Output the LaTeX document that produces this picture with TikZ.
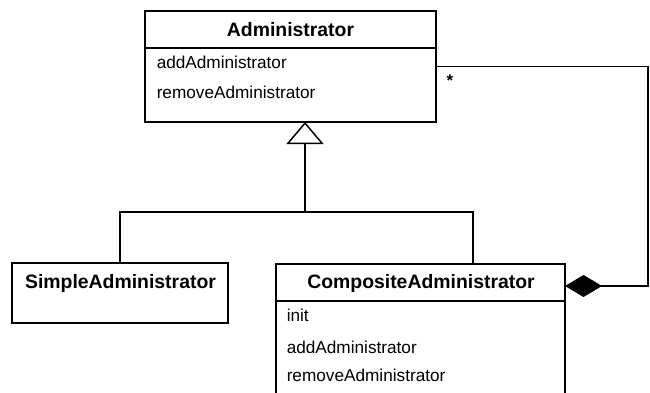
\documentclass[tikz,border=0pt]{standalone}
\usepackage{fontspec}
\setmainfont{Liberation Sans}
\usetikzlibrary{arrows.meta,calc}
\begin{document}
\begin{tikzpicture}[x=1pt,y=-1pt,
  line width=1.5pt,
  classbox/.style={draw,rectangle,inner sep=0pt,outer sep=0pt,fill=white},
  classname/.style={font=\fontsize{19.4}{21}\selectfont\bfseries,inner sep=0pt},
  member/.style={font=\fontsize{17.2}{19}\selectfont,inner sep=0pt,anchor=west},
  mult/.style={font=\fontsize{17}{19}\selectfont\bfseries,inner sep=0pt}]
\useasboundingbox (0,0) rectangle (650,393);
\clip (0,0) rectangle (650,393);

% Administrator class
\node[classbox,minimum width=291pt,minimum height=111pt] (admin) at (290.5,66.5) {};
\draw (admin.west |- 0,48) -- (admin.east |- 0,48);
\node[classname] (adminname) at (290.5,30) {Administrator};
\node[member] (adminadd) at (156,62) {addAdministrator};
\node[member] (adminrem) at (156,92) {removeAdministrator};

% SimpleAdministrator class
\node[classbox,minimum width=216pt,minimum height=60pt] (simple) at (120,293) {};
\node[classname] (simplename) at (120.5,283) {SimpleAdministrator};

% CompositeAdministrator class (continues below the page edge)
\node[classbox,minimum width=289pt,minimum height=156pt] (comp) at (420.5,342) {};
\draw (comp.west |- 0,301) -- (comp.east |- 0,301);
\node[classname] (compname) at (421,283) {CompositeAdministrator};
\node[member] (compinit) at (286,315) {init};
\node[member] (compadd) at (286,347) {addAdministrator};
\node[member] (comprem) at (286,375) {removeAdministrator};

% generalisation
\coordinate (joint) at (305,212);
\coordinate (comptop) at ([xshift=52.5pt]comp.north);
\draw[-{Triangle[open,length=22pt,width=37pt,line width=1.5pt]}]
  (joint) -- (joint |- admin.south);
\draw (simple.north) |- (joint) -| (comptop);

% composition
\coordinate (compside) at ([yshift=-22pt]comp.north east);
\coordinate (corner) at (648,66.5);
\draw[{Diamond[length=37pt,width=22pt]}-]
  (compside) -- (corner |- compside) -- (corner) -- (admin.east);
\node[mult] (star) at (450,81) {*};
\end{tikzpicture}
\end{document}
